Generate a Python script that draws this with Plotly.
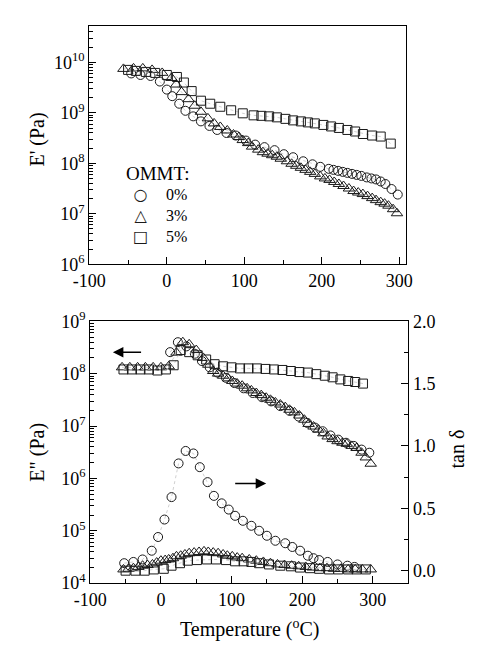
import plotly.graph_objects as go

# ---- storage modulus E' (log10 Pa) vs temperature ----
t_ep_0 = [-46, -34, -21, -9, 0, 7, 16, 24, 34, 44, 55, 65, 77, 89, 102, 114, 126, 139, 151, 163,
          176, 188, 198, 209, 215, 221, 227, 233, 239, 245, 251, 258, 264, 270, 276, 282, 290, 298]
ep_0 = [9.78, 9.75, 9.73, 9.62, 9.46, 9.33, 9.18, 9.04, 8.93, 8.83, 8.74, 8.66, 8.60, 8.55, 8.45,
        8.37, 8.32, 8.26, 8.18, 8.12, 8.04, 7.98, 7.93, 7.89, 7.87, 7.85, 7.83, 7.81, 7.79, 7.77,
        7.75, 7.72, 7.70, 7.68, 7.64, 7.59, 7.49, 7.38]

t_ep_3 = [-56, -43, -31, -19, -6, 6, 12, 19, 28, 36, 44, 53, 61, 69, 78, 86, 93, 98, 105, 110, 118,
          124, 130, 136, 142, 147, 155, 161, 167, 173, 179, 185, 191, 198, 204, 210, 216, 222, 228,
          235, 241, 247, 253, 259, 265, 270, 276, 281, 286, 292, 297]
ep_3 = [9.87, 9.88, 9.88, 9.85, 9.79, 9.69, 9.56, 9.41, 9.27, 9.14, 9.02, 8.89, 8.79, 8.72, 8.65,
        8.57, 8.52, 8.46, 8.40, 8.33, 8.27, 8.22, 8.19, 8.16, 8.13, 8.09, 8.04, 7.99, 7.95, 7.91,
        7.87, 7.83, 7.79, 7.74, 7.70, 7.67, 7.63, 7.59, 7.55, 7.50, 7.45, 7.42, 7.39, 7.35, 7.31,
        7.27, 7.23, 7.20, 7.16, 7.09, 7.01]

t_ep_5 = [-50, -40, -27, -15, 0, 13, 22, 32, 44, 56, 69, 83, 98, 112, 122, 132, 142, 153, 163, 173,
          182, 191, 202, 212, 222, 233, 243, 253, 265, 276, 289]
ep_5 = [9.85, 9.83, 9.81, 9.79, 9.75, 9.71, 9.60, 9.43, 9.24, 9.18, 9.12, 9.05, 8.99, 8.95, 8.94,
        8.93, 8.91, 8.88, 8.85, 8.83, 8.81, 8.79, 8.76, 8.73, 8.70, 8.66, 8.63, 8.58, 8.55, 8.53, 8.39]

# ---- loss modulus E" (log10 Pa) ----
t_epp_0 = [13, 24, 36, 48, 58, 69, 80, 92, 104, 117, 130, 143, 156, 169, 182, 195, 207, 218, 229,
           240, 251, 262, 273, 284, 295]
epp_0 = [8.41, 8.60, 8.52, 8.38, 8.24, 8.12, 8.02, 7.92, 7.82, 7.72, 7.63, 7.55, 7.47, 7.38, 7.29,
         7.18, 7.06, 6.97, 6.90, 6.82, 6.74, 6.68, 6.62, 6.55, 6.49]

t_epp_3 = [-55, -44, -33, -22, -11, 0, 11, 22, 31, 40, 50, 60, 67, 74, 81, 88, 95, 101, 108, 115,
           122, 128, 135, 142, 149, 155, 162, 169, 176, 182, 189, 196, 203, 209, 216, 223, 230, 236,
           243, 250, 257, 263, 270, 277, 284, 290, 297]
epp_3 = [8.12, 8.12, 8.12, 8.12, 8.12, 8.12, 8.14, 8.40, 8.60, 8.56, 8.45, 8.30, 8.17, 8.05, 8.00,
         7.96, 7.91, 7.86, 7.81, 7.77, 7.72, 7.68, 7.63, 7.59, 7.54, 7.50, 7.45, 7.41, 7.36, 7.31,
         7.26, 7.20, 7.12, 7.04, 6.99, 6.93, 6.86, 6.80, 6.75, 6.71, 6.68, 6.66, 6.62, 6.58, 6.49,
         6.40, 6.28]

t_epp_5 = [-53, -41, -29, -17, -5, 7, 18, 28, 40, 52, 64, 76, 88, 100, 112, 124, 136, 148, 160, 172,
           184, 196, 208, 220, 232, 243, 254, 265, 275, 286]
epp_5 = [8.08, 8.08, 8.08, 8.08, 8.06, 8.08, 8.16, 8.45, 8.41, 8.35, 8.27, 8.18, 8.14, 8.12, 8.10,
         8.10, 8.10, 8.09, 8.08, 8.07, 8.05, 8.03, 8.02, 7.99, 7.96, 7.93, 7.89, 7.86, 7.84, 7.81]

# ---- loss factor tan delta ----
t_tan_0 = [-52, -39, -26, -13, -4, 5, 15, 25, 35, 46, 55, 66, 75, 86, 96, 105, 116, 128, 139, 150,
           162, 176, 186, 197, 208, 216, 224, 236, 250, 264, 274]
tan_0 = [0.06, 0.07, 0.09, 0.16, 0.27, 0.41, 0.59, 0.86, 0.96, 0.94, 0.83, 0.71, 0.60, 0.54, 0.49,
         0.44, 0.40, 0.36, 0.32, 0.28, 0.24, 0.22, 0.19, 0.16, 0.12, 0.10, 0.085, 0.07, 0.05, 0.04,
         0.03]

t_tan_3 = [-53, -46, -39, -32, -26, -19, -12, -6, 0, 6, 11, 17, 22, 28, 34, 40, 47, 54, 61, 67, 74,
           81, 88, 94, 101, 108, 115, 125, 135, 145, 155, 165, 175, 185, 195, 205, 215, 225, 235,
           245, 255, 265, 275, 285, 297]
tan_3 = [0.01, 0.015, 0.02, 0.03, 0.04, 0.045, 0.05, 0.065, 0.08, 0.085, 0.09, 0.10, 0.115, 0.12,
         0.13, 0.14, 0.145, 0.15, 0.155, 0.15, 0.145, 0.14, 0.13, 0.12, 0.115, 0.105, 0.10, 0.09,
         0.08, 0.07, 0.06, 0.05, 0.045, 0.04, 0.035, 0.03, 0.025, 0.02, 0.02, 0.015, 0.015, 0.01,
         0.01, 0.01, 0.01]

t_tan_5 = [-50, -36, -23, -10, 4, 15, 27, 38, 51, 65, 78, 92, 105, 117, 128, 139, 153, 169, 184, 197,
           211, 224, 238, 251, 265, 277, 290]
tan_5 = [0.0, 0.0, 0.0, 0.01, 0.015, 0.04, 0.06, 0.08, 0.085, 0.09, 0.09, 0.085, 0.075, 0.075,
         0.07, 0.06, 0.05, 0.04, 0.035, 0.025, 0.02, 0.015, 0.01, 0.01, 0.01, 0.01, 0.01]

x_tick_vals = [-100, 0, 100, 200, 300]
x_tick_text = ["-100", "0", "100", "200", "300"]
ep_decades = [6, 7, 8, 9, 10]
epp_decades = [4, 5, 6, 7, 8, 9]
tan_ticks = [0.0, 0.5, 1.0, 1.5, 2.0]
series_names = ["0%", "3%", "5%"]
legend_glyphs = ["○", "△", "□"]

W, H = 477, 655
FONT = "'Liberation Serif', 'Times New Roman', Times, serif"
INK = "#1a1a1a"
symbols = ["circle-open", "triangle-up-open", "square-open"]
sizes = [9, 10, 9]


def pw(v):
    return [10 ** a for a in v]


def minor_log(lo, hi):
    return [k * 10 ** d for d in range(lo, hi) for k in range(2, 10)]


fig = go.Figure()


def add_series(x, y, i, xa, ya):
    fig.add_trace(go.Scatter(x=x, y=y, mode="lines", xaxis=xa, yaxis=ya, showlegend=False,
                             line=dict(color="#c4c4c4", width=0.8, dash="dot"), hoverinfo="skip"))
    fig.add_trace(go.Scatter(x=x, y=y, mode="markers", xaxis=xa, yaxis=ya, name=series_names[i],
                             showlegend=False,
                             marker=dict(symbol=symbols[i], size=sizes[i], color=INK,
                                         line=dict(color=INK, width=1))))


# top panel: E'
for i, (tx, vy) in enumerate([(t_ep_0, ep_0), (t_ep_3, ep_3), (t_ep_5, ep_5)]):
    add_series(tx, pw(vy), i, "x", "y")

# bottom panel: E" and tan delta
for i, (tx, vy) in enumerate([(t_epp_0, epp_0), (t_epp_3, epp_3), (t_epp_5, epp_5)]):
    add_series(tx, pw(vy), i, "x2", "y2")
for i, (tx, vy) in enumerate([(t_tan_0, tan_0), (t_tan_3, tan_3), (t_tan_5, tan_5)]):
    add_series(tx, vy, i, "x2", "y3")

axis_common = dict(showgrid=False, zeroline=False, showline=True, linecolor="black", linewidth=1.3,
                   ticks="inside", ticklen=7, tickwidth=1.2, tickcolor="black",
                   tickfont=dict(family=FONT, size=18, color="black"))
minor_style = dict(ticks="inside", ticklen=4, tickcolor="black", tickwidth=1)

top_y = [1 - 261 / H, 1 - 15 / H]
bot_y = [1 - 591 / H, 1 - 320 / H]

fig.update_layout(
    width=W, height=H, margin=dict(l=0, r=0, t=0, b=0),
    paper_bgcolor="white", plot_bgcolor="white", showlegend=False,
    font=dict(family=FONT, size=18, color="black"),
    xaxis=dict(axis_common, domain=[76 / W, 409 / W], range=[-100, 309], anchor="y", mirror=True,
               tickvals=x_tick_vals, ticktext=x_tick_text,
               minor=dict(minor_style, tickvals=[-50, 50, 150, 250])),
    yaxis=dict(axis_common, type="log", domain=top_y, range=[6, 10.71], anchor="x", mirror=True,
               tickvals=[10 ** d for d in ep_decades],
               ticktext=["10<sup>%d</sup>" % d for d in ep_decades],
               minor=dict(minor_style, tickvals=minor_log(6, 11))),
    xaxis2=dict(axis_common, domain=[77 / W, 411 / W], range=[-100, 350], anchor="y2", mirror=True,
                tickvals=x_tick_vals, ticktext=x_tick_text,
                minor=dict(minor_style, tickvals=[-50, 50, 150, 250])),
    yaxis2=dict(axis_common, type="log", domain=bot_y, range=[4, 9], anchor="x2",
                tickvals=[10 ** d for d in epp_decades],
                ticktext=["10<sup>%d</sup>" % d for d in epp_decades],
                minor=dict(minor_style, tickvals=minor_log(4, 9))),
    yaxis3=dict(axis_common, domain=bot_y, range=[-0.1, 2.0], anchor="x2", overlaying="y2",
                side="right", tickvals=tan_ticks, ticktext=["%.1f" % v for v in tan_ticks],
                minor=dict(minor_style, tickvals=[0.25, 0.75, 1.25, 1.75])),
)

# axis titles
title_font = dict(family=FONT, size=20, color="black")
fig.add_annotation(text="E' (Pa)", x=22 / W, y=1 - 132 / H, xref="paper", yref="paper",
                   xanchor="center", yanchor="middle", textangle=-90, showarrow=False,
                   font=title_font)
fig.add_annotation(text='E" (Pa)', x=22 / W, y=1 - 455 / H, xref="paper", yref="paper",
                   xanchor="center", yanchor="middle", textangle=-90, showarrow=False,
                   font=title_font)
fig.add_annotation(text="tan δ", x=462 / W, y=1 - 452 / H, xref="paper", yref="paper",
                   xanchor="center", yanchor="middle", textangle=-90, showarrow=False,
                   font=title_font)
fig.add_annotation(text="Temperature (<sup>o</sup>C)", x=244 / W, y=1 - 638 / H, xref="paper",
                   yref="paper", xanchor="center", yanchor="middle", showarrow=False,
                   font=title_font)

# key for the three clay loadings: heading, symbol column, label column
fig.add_annotation(text="OMMT:", x=112 / W, y=1 - 167 / H, xref="paper", yref="paper",
                   xanchor="left", yanchor="middle", showarrow=False,
                   font=dict(family=FONT, size=19, color="black"))
fig.add_annotation(text="<br>".join(legend_glyphs), x=130 / W, y=1 - 211 / H, xref="paper",
                   yref="paper", xanchor="center", yanchor="middle", showarrow=False,
                   font=dict(family="DejaVu Sans", size=16, color=INK))
fig.add_annotation(text="<br>".join(series_names), x=154 / W, y=1 - 211 / H, xref="paper",
                   yref="paper", xanchor="left", yanchor="middle", align="left", showarrow=False,
                   font=dict(family=FONT, size=16, color="black"))

# arrows pointing to the axis each family of curves belongs to
fig.add_annotation(x=-68, y=8.41, ax=-26, ay=8.41, xref="x2", yref="y2", axref="x2", ayref="y2",
                   showarrow=True, arrowhead=2, arrowsize=1.4, arrowwidth=1.5, arrowcolor="black",
                   text="")
fig.add_annotation(x=149, y=0.70, ax=103, ay=0.70, xref="x2", yref="y3", axref="x2", ayref="y3",
                   showarrow=True, arrowhead=2, arrowsize=1.4, arrowwidth=1.5, arrowcolor="black",
                   text="")

fig.write_html("out.html")
